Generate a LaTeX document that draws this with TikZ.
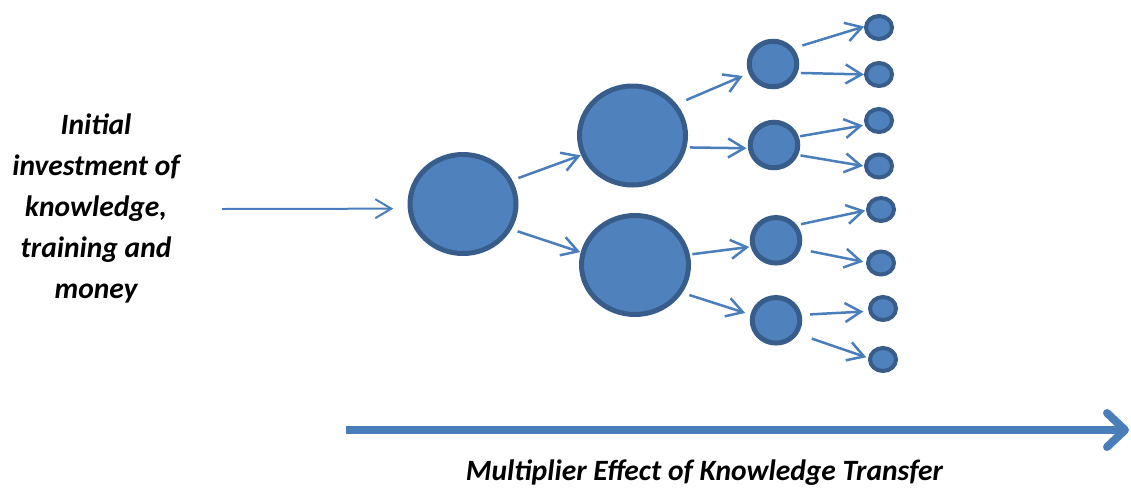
\documentclass[tikz,border=0pt]{standalone}
\usepackage{fontspec}
\setmainfont{Carlito}
\usetikzlibrary{shapes.geometric,arrows.meta}
\definecolor{fillblue}{HTML}{4F81BD}
\definecolor{edgeblue}{HTML}{385D8A}
\definecolor{arrowblue}{HTML}{4A7EBB}
\tikzset{
  ball/.style={ellipse,draw=edgeblue,fill=fillblue,inner sep=0pt,outer sep=0pt},
  bigball/.style={ball,line width=5pt,minimum width=106pt,minimum height=99pt},
  midball/.style={ball,line width=5pt,minimum width=47.5pt,minimum height=45.5pt},
  smallball/.style={ball,line width=4pt,minimum width=26pt,minimum height=23pt},
  arr/.style={draw=arrowblue,line width=2.5pt,-{Straight Barb[length=16pt,width=19pt]}},
  lbltext/.style={font=\bfseries\itshape\fontsize{29.5}{41}\selectfont}
}
\begin{document}
\begin{tikzpicture}[x=1pt,y=-1pt]
\useasboundingbox (0,0) rectangle (1131,488);
%\draw[step=50,gray,very thin] (0,0) grid (1131,488);
\node[lbltext,align=center] (invest) at (96,208) {Initial\\investment of\\knowledge,\\training and\\money};
\node[lbltext,anchor=base] (effect) at (704.5,480) {Multiplier Effect of Knowledge Transfer};
% first and second level
\node[bigball] (root) at (463,204) {};
\node[bigball] (up) at (632.5,135.5) {};
\node[bigball,minimum width=107pt] (low) at (635,265) {};
% third level
\node[midball] (c1) at (773,64) {};
\node[midball] (c2) at (774,145) {};
\node[midball] (c3) at (776,240.3) {};
\node[midball] (c4) at (776,320.3) {};
% fourth level
\node[smallball] (d1) at (879,27.5) {};
\node[smallball] (d2) at (879,74.5) {};
\node[smallball] (d3) at (879,120.5) {};
\node[smallball] (d4) at (879,166) {};
\node[smallball] (d5) at (881,209.5) {};
\node[smallball] (d6) at (881,263) {};
\node[smallball] (d7) at (883,308.5) {};
\node[smallball] (d8) at (883,359.5) {};
\coordinate (in) at (222,209);
\coordinate (axisL) at (346,430);
\coordinate (axisR) at (1129,430);
\draw[arr,line width=2pt,shorten >=17pt] (in) -- (root.185);
\draw[arr,shorten <=9pt,shorten >=3pt] (root.26) -- (up.201);
\draw[arr,shorten <=9pt,shorten >=3pt] (root.332) -- (low.167);
\draw[arr,shorten <=13pt,shorten >=9pt] (up.36) -- (c1.201);
\draw[arr,shorten <=6pt,shorten >=4pt] (up.347) -- (c2.188);
\draw[arr,shorten <=5pt,shorten >=4pt] (low.11) -- (c3.195);
\draw[arr,shorten <=10pt,shorten >=8pt] (low.329) -- (c4.168);
\draw[arr,shorten <=12pt,shorten >=2pt] (c1.40) -- (d1.173);
\draw[arr,shorten <=6pt,shorten >=2pt] (c1.338) -- (d2.180);
\draw[arr,shorten <=4pt,shorten >=4pt] (c2.20) -- (d3.199);
\draw[arr,shorten <=5pt,shorten >=3pt] (c2.336) -- (d4.182);
\draw[arr,shorten <=7pt,shorten >=3pt] (c3.39) -- (d5.182);
\draw[arr,shorten <=13pt,shorten >=5pt] (c3.339) -- (d6.179);
\draw[arr,shorten <=11pt,shorten >=7pt] (c4.13) -- (d7.192);
\draw[arr,shorten <=17pt,shorten >=4pt] (c4.327) -- (d8.176);
\draw[draw=arrowblue,line width=8pt,-{Straight Barb[length=18pt,width=34pt,round]}] (axisL) -- (axisR);
\end{tikzpicture}
\end{document}
